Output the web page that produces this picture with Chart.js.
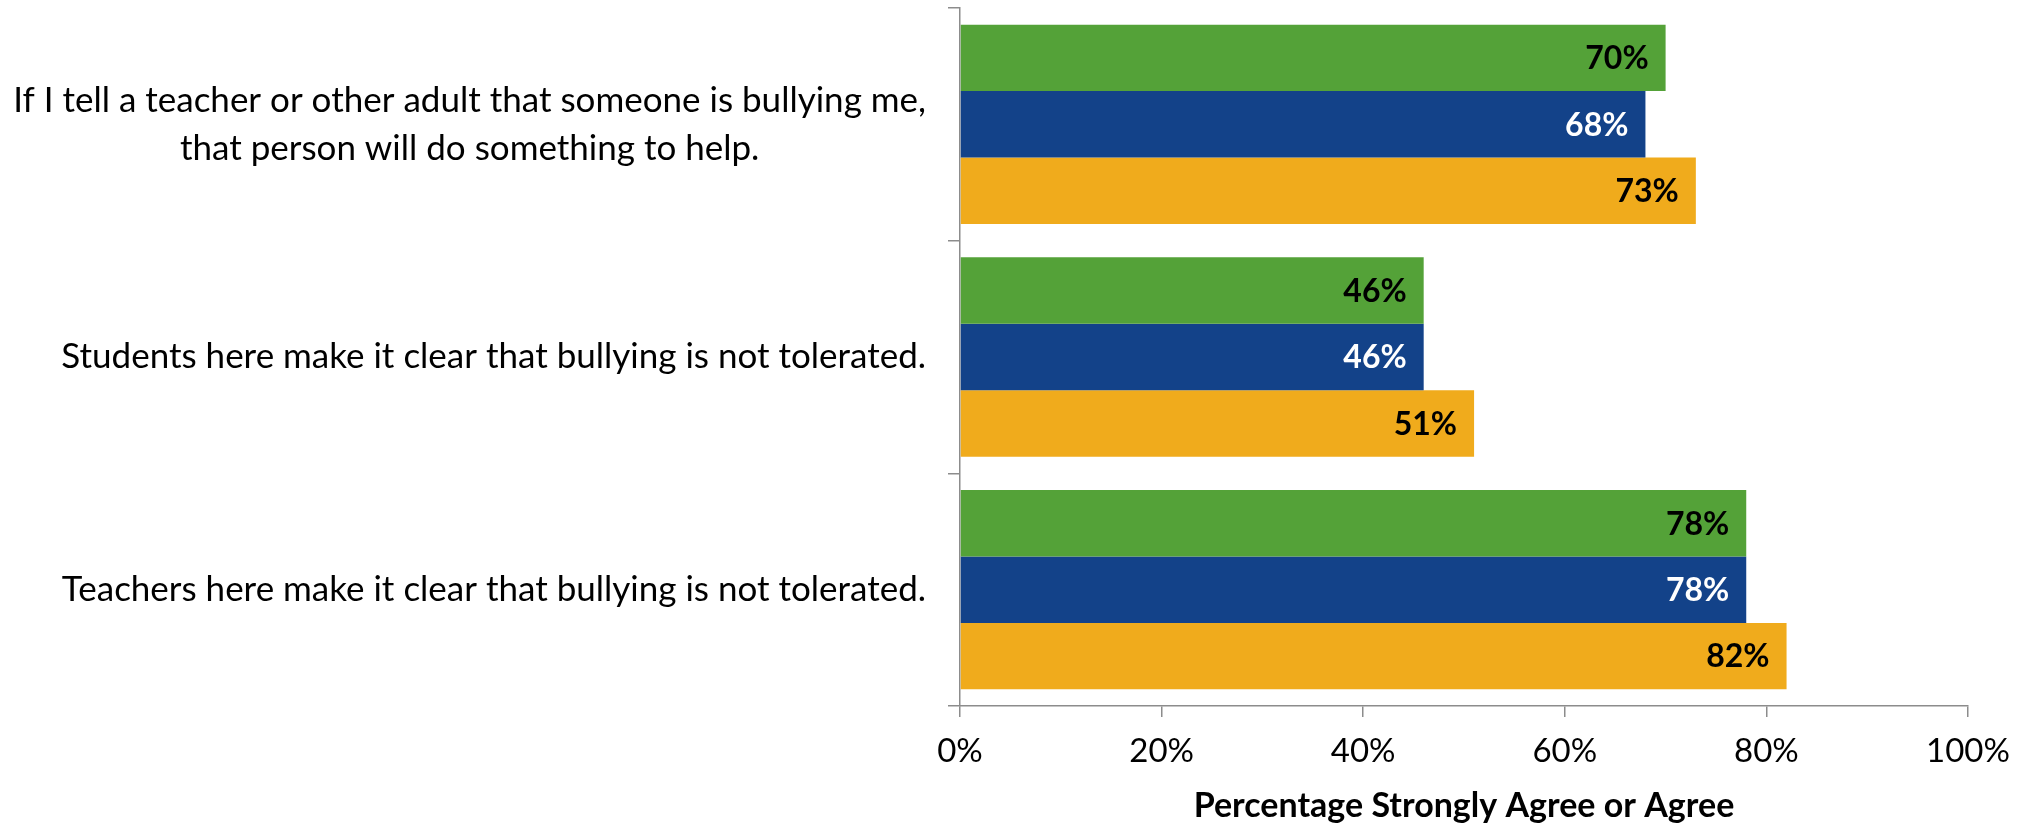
<!DOCTYPE html>
<html>
<head>
<meta charset="utf-8">
<script src="https://cdn.jsdelivr.net/npm/chart.js@4.4.0/dist/chart.umd.min.js"></script>
<style>
  html, body { margin: 0; padding: 0; background: #fff; }
</style>
</head>
<body>
<canvas id="chart" width="2028" height="828"></canvas>
<script>
// survey statements (multi-line where the original wraps)
const questions = [
  ["If I tell a teacher or other adult that someone is bullying me,", "that person will do something to help."],
  ["Students here make it clear that bullying is not tolerated."],
  ["Teachers here make it clear that bullying is not tolerated."]
];
const greenValues = [70, 46, 78];
const blueValues = [68, 46, 78];
const orangeValues = [73, 51, 82];
const xTicks = [0, 20, 40, 60, 80, 100];
const xTitle = "Percentage Strongly Agree or Agree";

const FONT = "Lato, 'Open Sans', sans-serif";
const axisGray = "#8c8c8c";

// bold % labels at the inside end of each bar
const barLabels = {
  id: "barLabels",
  afterDatasetsDraw(chart) {
    const ctx = chart.ctx;
    ctx.save();
    ctx.font = "bold 32px " + FONT;
    ctx.textAlign = "right";
    ctx.textBaseline = "middle";
    chart.data.datasets.forEach((ds, i) => {
      const meta = chart.getDatasetMeta(i);
      ctx.fillStyle = ds.labelColor;
      meta.data.forEach((bar, j) => {
        ctx.fillText(ds.data[j] + "%", bar.x - 17, bar.y + 1);
      });
    });
    ctx.restore();
  }
};

// category labels: right aligned block, lines centred inside it (like Excel)
const catLabels = {
  id: "catLabels",
  afterDraw(chart) {
    const ctx = chart.ctx;
    const y = chart.scales.y;
    ctx.save();
    ctx.font = "35px " + FONT;
    ctx.fillStyle = "#000";
    ctx.textAlign = "center";
    ctx.textBaseline = "middle";
    const right = y.right - 34;
    const lineH = 48;
    questions.forEach((lines, i) => {
      const cy = y.getPixelForValue(i);
      let widest = 0;
      lines.forEach(l => { widest = Math.max(widest, ctx.measureText(l).width); });
      const cx = right - widest / 2;
      const y0 = cy - (lines.length - 1) * lineH / 2;
      lines.forEach((l, k) => ctx.fillText(l, cx, y0 + k * lineH));
    });
    ctx.restore();
  }
};

const ctx = document.getElementById("chart").getContext("2d");
new Chart(ctx, {
  type: "bar",
  data: {
    labels: questions.map(q => q.join(" ")),
    datasets: [
      { label: "Series 1", data: greenValues, backgroundColor: "#54a238", labelColor: "#000" },
      { label: "Series 2", data: blueValues, backgroundColor: "#134289", labelColor: "#fff" },
      { label: "Series 3", data: orangeValues, backgroundColor: "#f0ab1c", labelColor: "#000" }
    ]
  },
  options: {
    indexAxis: "y",
    responsive: false,
    animation: false,
    categoryPercentage: 0.857,
    barPercentage: 1.0,
    layout: { padding: { top: 8, right: 60, left: 0, bottom: 0 } },
    plugins: {
      legend: { display: false },
      tooltip: { enabled: false }
    },
    scales: {
      x: {
        min: 0,
        max: 100,
        afterBuildTicks: s => { s.ticks = xTicks.map(v => ({ value: v })); },
        afterFit: s => { s.height = 122; },
        border: { color: axisGray, width: 1.5 },
        grid: { drawOnChartArea: false, drawTicks: true, tickLength: 11, color: axisGray, lineWidth: 1.5 },
        ticks: {
          color: "#000",
          font: { family: FONT, size: 33 },
          padding: 15,
          maxRotation: 0,
          callback: v => v + "%"
        },
        title: {
          display: true,
          text: xTitle,
          color: "#000",
          font: { family: FONT, size: 34, weight: "bold" },
          padding: { top: 0, bottom: 2 }
        }
      },
      y: {
        afterFit: s => { s.width = 960; },
        border: { color: axisGray, width: 1.5 },
        grid: { drawOnChartArea: false, drawTicks: true, tickLength: 12, color: axisGray, lineWidth: 1.5, offset: true },
        ticks: { display: false }
      }
    }
  },
  plugins: [barLabels, catLabels]
});
</script>
</body>
</html>
